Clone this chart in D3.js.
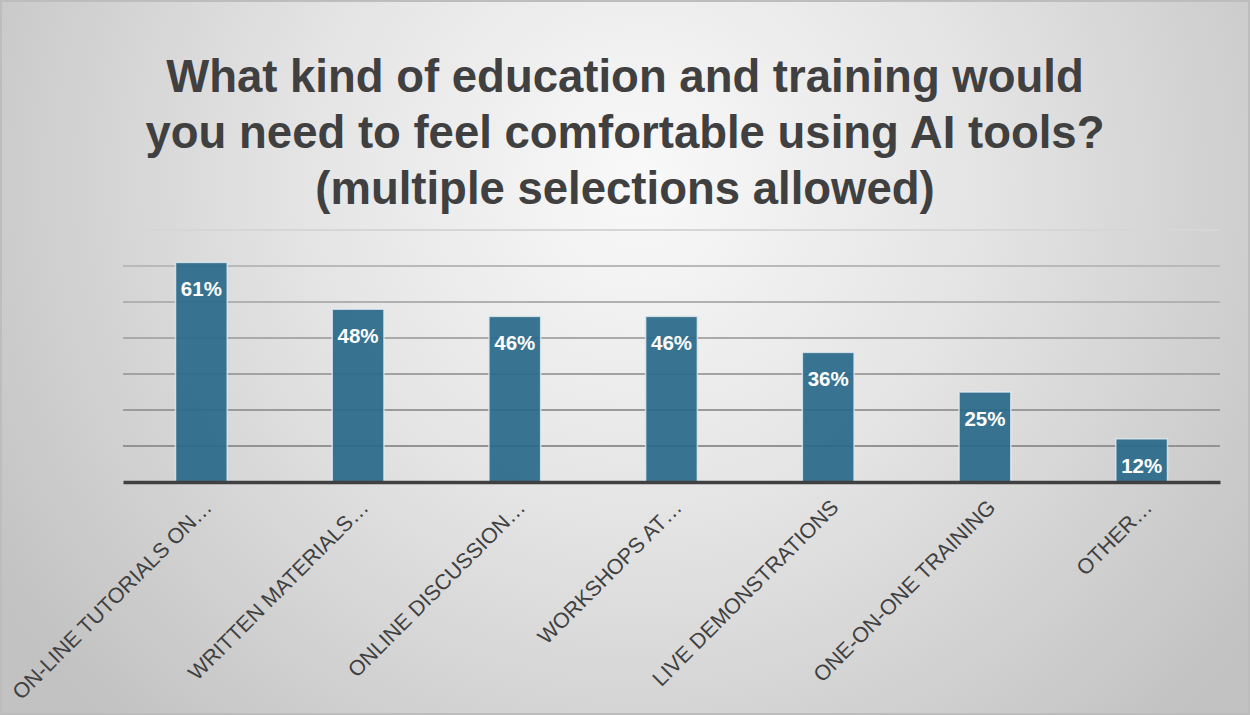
<!DOCTYPE html>
<html>
<head>
<meta charset="utf-8">
<script src="https://cdn.jsdelivr.net/npm/d3@7"></script>
<style>
  html, body { margin: 0; padding: 0; background: #fff; }
  svg { display: block; }
</style>
</head>
<body>
<svg id="chart" width="1250" height="715"></svg>
<script>
const categories = [
  "ON-LINE TUTORIALS ON…",
  "WRITTEN MATERIALS…",
  "ONLINE DISCUSSION…",
  "WORKSHOPS AT…",
  "LIVE DEMONSTRATIONS",
  "ONE-ON-ONE TRAINING",
  "OTHER…"
];
const values = [61, 48, 46, 46, 36, 25, 12];
const gridTicks = [0, 10, 20, 30, 40, 50, 60, 70];
const titleLines = [
  "What kind of education and training would",
  "you need to feel comfortable using AI tools?",
  "(multiple selections allowed)"
];

const W = 1250, H = 715;
const svg = d3.select("#chart");
const defs = svg.append("defs");

const bg = defs.append("radialGradient").attr("id", "bg")
  .attr("gradientUnits", "userSpaceOnUse")
  .attr("cx", 640).attr("cy", 180).attr("r", 760);
bg.append("stop").attr("offset", "0%").attr("stop-color", "#f9f9f9");
bg.append("stop").attr("offset", "45%").attr("stop-color", "#e4e4e4");
bg.append("stop").attr("offset", "100%").attr("stop-color", "#c2c2c2");

svg.append("rect").attr("x", 0).attr("y", 0).attr("width", W).attr("height", H)
  .attr("fill", "url(#bg)");
svg.append("rect").attr("x", 1).attr("y", 1).attr("width", W - 2).attr("height", H - 2)
  .attr("fill", "none").attr("stroke", "#bdbdbd").attr("stroke-width", 2);

// Title
const title = svg.append("text")
  .attr("text-anchor", "middle")
  .attr("font-family", "'Liberation Sans', Arial, sans-serif")
  .attr("font-weight", "bold")
  .attr("font-size", 45.5)
  .attr("fill", "#404040");
titleLines.forEach((t, i) => {
  title.append("tspan").attr("x", 625).attr("y", 92 + i * 56).text(t);
});

// Scales
const x = d3.scaleBand().domain(categories).range([123, 1220]).paddingInner(0.67).paddingOuter(0.335);
const y = d3.scaleLinear().domain([0, 70]).range([482, 230]);

// Gridlines
const gridColor = d3.scaleLinear().domain([10, 60, 70]).range(["#939393", "#b9b9b9", "#d6d6d6"]);
svg.append("g").selectAll("line")
  .data(gridTicks.filter(d => d > 0))
  .join("line")
  .attr("x1", 123).attr("x2", 1220)
  .attr("y1", d => y(d)).attr("y2", d => y(d))
  .attr("stroke", d => gridColor(d))
  .attr("stroke-width", 2);

// Bars
svg.append("g").selectAll("rect")
  .data(values)
  .join("rect")
  .attr("x", (d, i) => x(categories[i]))
  .attr("y", d => y(d))
  .attr("width", x.bandwidth())
  .attr("height", d => y(0) - y(d))
  .attr("fill", "#2a6a8a")
  .attr("fill-opacity", 0.93)
  .attr("stroke", "#e2ecf1")
  .attr("stroke-opacity", 0.8)
  .attr("stroke-width", 1.5);

// Baseline axis
const xAxis = d3.axisBottom(x).tickSize(0).tickFormat("");
const axG = svg.append("g").attr("transform", `translate(0,${y(0)})`).call(xAxis);
axG.select(".domain").attr("stroke", "#404040").attr("stroke-width", 3.5);

// Value labels
svg.append("g").selectAll("text")
  .data(values)
  .join("text")
  .attr("x", (d, i) => x(categories[i]) + x.bandwidth() / 2)
  .attr("y", d => y(d) + 34)
  .attr("text-anchor", "middle")
  .attr("font-family", "'Liberation Sans', Arial, sans-serif")
  .attr("font-weight", "bold")
  .attr("font-size", 20.5)
  .attr("fill", "#ffffff")
  .text(d => d + "%");

// Category labels
svg.append("g").selectAll("text")
  .data(categories)
  .join("text")
  .attr("transform", d => `translate(${x(d) + x.bandwidth() / 2 + 1},${y(0) + 16}) rotate(-45)`)
  .attr("text-anchor", "end")
  .attr("dy", "0.71em")
  .attr("font-family", "'Liberation Sans', Arial, sans-serif")
  .attr("font-size", 21.4)
  .attr("fill", "#404040")
  .text(d => d);
</script>
</body>
</html>
